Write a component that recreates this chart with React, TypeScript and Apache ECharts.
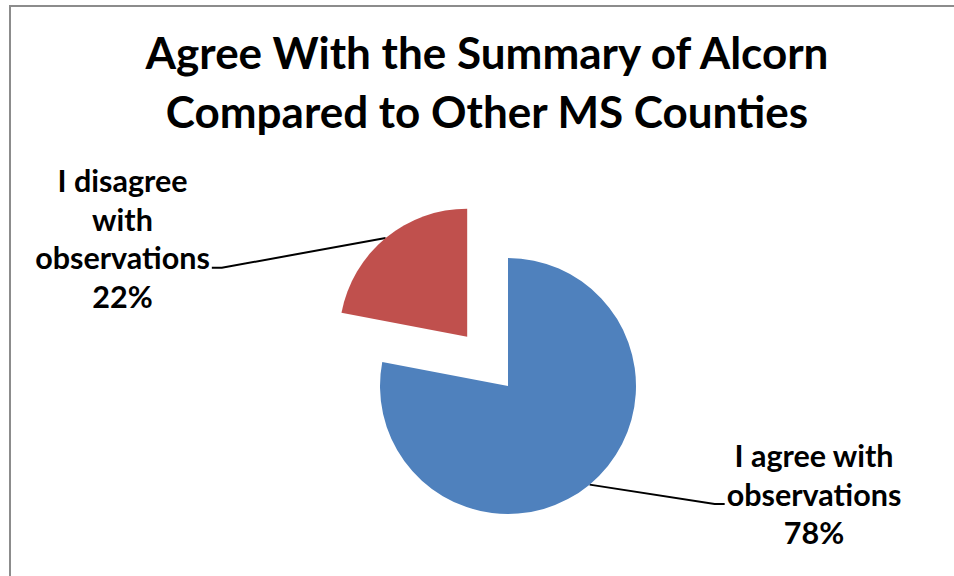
import React, { useEffect, useRef } from "react";
import * as echarts from "echarts";

// Survey answers and their shares (percent)
const categories = ["I agree with\nobservations", "I disagree\nwith\nobservations"];
const shares = [78, 22];
const sliceColors = ["#4F81BD", "#C0504D"];
const explodedSlice = [false, true];

const titleLines = ["Agree With the Summary of Alcorn", "Compared to Other MS Counties"];

const FONT = "Lato, 'Open Sans', 'Liberation Sans', sans-serif";
const LABEL_SIZE = 30.5;
const LABEL_LH = 38.5;
const CAP_HALF = 10.5;

const PIE_CENTER = [508, 386];
const PIE_RADIUS = 128;
const START_ANGLE = 90;
const EXPLODE_DIST = 64;

// Where each label block sits, which side of the pie it is on, and which
// wrapped line the leader line runs under.
const labelSpots = [
  { x: 814, y: 493.5, side: 1, lineIndex: 1 },
  { x: 122.5, y: 238, side: -1, lineIndex: 2 },
];

const hidden = {
  itemStyle: { opacity: 0 },
  label: { show: false },
  labelLine: { show: false },
};

// Offset of a slice's centre when it is pulled out along its mid-angle
function explodeOffset(index: number): [number, number] {
  const total = shares.reduce((a, b) => a + b, 0);
  const before = shares.slice(0, index).reduce((a, b) => a + b, 0);
  const midFrac = (before + shares[index] / 2) / total;
  // clockwise from the start angle (degrees, counter-clockwise from 3 o'clock)
  const ang = ((START_ANGLE - midFrac * 360) * Math.PI) / 180;
  return [Math.cos(ang) * EXPLODE_DIST, -Math.sin(ang) * EXPLODE_DIST];
}

export default function App() {
  const ref = useRef<HTMLDivElement | null>(null);

  useEffect(() => {
    if (!ref.current) return;
    const chart = echarts.init(ref.current, undefined, { renderer: "svg" });

    const labelLayout = (params: any) => {
      const spot = labelSpots[params.dataIndex];
      const rect = params.labelRect;
      const lines = String(params.text).split("\n").length;
      const start = params.labelLinePoints
        ? params.labelLinePoints[0]
        : [spot.x, spot.y];
      const underY =
        spot.y + (spot.lineIndex - (lines - 1) / 2) * LABEL_LH + CAP_HALF;
      const edgeX = spot.x - (spot.side * rect.width) / 2 - spot.side * 2;
      const bendX = edgeX - spot.side * 10;
      return {
        x: spot.x,
        y: spot.y,
        align: "center",
        verticalAlign: "middle",
        labelLinePoints: [start, [bendX, underY], [edgeX, underY]],
      };
    };

    const baseSeries = {
      type: "pie",
      radius: PIE_RADIUS,
      startAngle: START_ANGLE,
      clockwise: true,
      avoidLabelOverlap: false,
      minShowLabelAngle: 0,
      silent: true,
      emphasis: { disabled: true },
      itemStyle: { borderWidth: 0 },
      label: {
        show: true,
        position: "outside",
        formatter: (p: any) => `${p.name}\n${p.value}%`,
        fontFamily: FONT,
        fontWeight: "bold",
        fontSize: LABEL_SIZE,
        lineHeight: LABEL_LH,
        color: "#000000",
        align: "center",
      },
      labelLine: {
        show: true,
        smooth: false,
        length: 20,
        length2: 20,
        lineStyle: { color: "#000000", width: 2 },
      },
      labelLayout,
    };

    // One pie layer for the slices in place, one for the pulled-out slice;
    // each layer hides the slices the other one draws.
    const layers = [false, true].map((exploded) => {
      const off = exploded
        ? explodeOffset(explodedSlice.indexOf(true))
        : [0, 0];
      return {
        ...baseSeries,
        center: [PIE_CENTER[0] + off[0], PIE_CENTER[1] + off[1]],
        data: categories.map((name, i) => ({
          name,
          value: shares[i],
          itemStyle: { color: sliceColors[i] },
          ...(explodedSlice[i] === exploded ? {} : hidden),
        })),
      };
    });

    chart.setOption({
      animation: false,
      backgroundColor: "#ffffff",
      title: {
        text: titleLines.join("\n"),
        left: 487,
        top: 23,
        padding: 0,
        textAlign: "center",
        textStyle: {
          fontFamily: FONT,
          fontWeight: "bold",
          fontSize: 44,
          lineHeight: 58.5,
          color: "#000000",
        },
      },
      graphic: [
        {
          type: "rect",
          silent: true,
          shape: { x: 10, y: 6, width: 980, height: 600 },
          style: { fill: "none", stroke: "#8c8c8c", lineWidth: 2 },
        },
      ],
      series: layers,
    });

    return () => chart.dispose();
  }, []);

  return (
    <div
      ref={ref}
      style={{ position: "absolute", left: 0, top: 0, width: 954, height: 576 }}
    />
  );
}
